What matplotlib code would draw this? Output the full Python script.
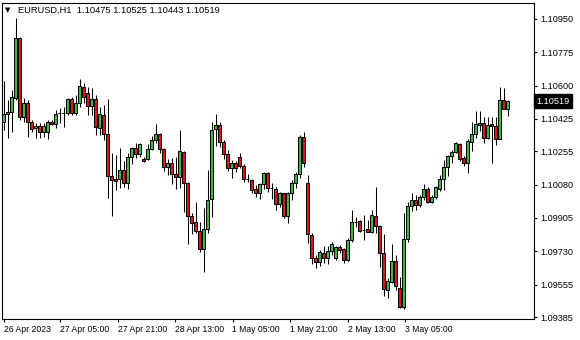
import matplotlib
matplotlib.use("Agg")
import matplotlib.pyplot as plt
import matplotlib.transforms as mtransforms

plt.rcParams['font.family'] = ['Liberation Sans', 'DejaVu Sans']

# EURUSD H1 candles (open, high, low, close)
opens = [1.10410, 1.10452, 1.10462, 1.10536, 1.10851, 1.10436, 1.10509, 1.10410, 1.10378, 1.10389,
         1.10357, 1.10357, 1.10410, 1.10399, 1.10457, 1.10457, 1.10457, 1.10530, 1.10457, 1.10509,
         1.10593, 1.10562, 1.10494, 1.10530, 1.10378, 1.10446, 1.10347, 1.10126, 1.10110, 1.10110,
         1.10158, 1.10089, 1.10226, 1.10273, 1.10242, 1.10215, 1.10215, 1.10268, 1.10315, 1.10347,
         1.10268, 1.10173, 1.10194, 1.10137, 1.10121, 1.10252, 1.10089, 1.09916, 1.09885, 1.09837,
         1.09743, 1.09848, 1.10005, 1.10373, 1.10394, 1.10305, 1.10242, 1.10168, 1.10194, 1.10226,
         1.10179, 1.10110, 1.10105, 1.10058, 1.10037, 1.10084, 1.10142, 1.10063, 1.10058, 1.09979,
         1.10037, 1.09916, 1.10037, 1.10089, 1.10137, 1.10331, 1.10089, 1.09816, 1.09696, 1.09675,
         1.09722, 1.09696, 1.09732, 1.09696, 1.09753, 1.09743, 1.09685, 1.09790, 1.09885, 1.09890,
         1.09843, 1.09848, 1.09832, 1.09916, 1.09864, 1.09722, 1.09528, 1.09570, 1.09680, 1.09538,
         1.09438, 1.09795, 1.09969, 1.10000, 1.09974, 1.10016, 1.10058, 1.09990, 1.10016, 1.10058,
         1.10110, 1.10173, 1.10231, 1.10252, 1.10294, 1.10221, 1.10194, 1.10305, 1.10347, 1.10394,
         1.10404, 1.10326, 1.10399, 1.10389, 1.10320, 1.10525, 1.10475]
highs = [1.10625, 1.10525, 1.10578, 1.10956, 1.10856, 1.10536, 1.10525, 1.10420, 1.10404, 1.10404,
         1.10404, 1.10420, 1.10420, 1.10473, 1.10483, 1.10488, 1.10536, 1.10541, 1.10551, 1.10635,
         1.10614, 1.10593, 1.10588, 1.10551, 1.10488, 1.10499, 1.10530, 1.10247, 1.10236, 1.10273,
         1.10205, 1.10247, 1.10278, 1.10299, 1.10299, 1.10226, 1.10294, 1.10336, 1.10399, 1.10352,
         1.10273, 1.10215, 1.10221, 1.10226, 1.10368, 1.10257, 1.10095, 1.09932, 1.09990, 1.09885,
         1.09958, 1.10158, 1.10410, 1.10452, 1.10410, 1.10315, 1.10263, 1.10210, 1.10205, 1.10247,
         1.10189, 1.10137, 1.10110, 1.10079, 1.10089, 1.10147, 1.10147, 1.10089, 1.10068, 1.10042,
         1.10037, 1.10042, 1.10105, 1.10147, 1.10341, 1.10357, 1.10131, 1.09827, 1.09711, 1.09738,
         1.09759, 1.09759, 1.09780, 1.09759, 1.09764, 1.09748, 1.09801, 1.09948, 1.09911, 1.09895,
         1.09921, 1.09895, 1.09948, 1.10068, 1.09869, 1.09822, 1.09591, 1.09769, 1.09711, 1.09596,
         1.09932, 1.09990, 1.10037, 1.10026, 1.10026, 1.10084, 1.10068, 1.10026, 1.10074, 1.10131,
         1.10210, 1.10236, 1.10263, 1.10305, 1.10299, 1.10231, 1.10320, 1.10410, 1.10467, 1.10467,
         1.10436, 1.10436, 1.10436, 1.10436, 1.10593, 1.10588, 1.10525]
lows = [1.10368, 1.10326, 1.10357, 1.10525, 1.10420, 1.10410, 1.10331, 1.10357, 1.10326, 1.10326,
        1.10331, 1.10320, 1.10394, 1.10378, 1.10404, 1.10383, 1.10446, 1.10446, 1.10446, 1.10488,
        1.10509, 1.10446, 1.10446, 1.10341, 1.10341, 1.10315, 1.10011, 1.09916, 1.10053, 1.10063,
        1.10068, 1.10058, 1.10189, 1.10221, 1.10226, 1.10200, 1.10210, 1.10263, 1.10299, 1.10247,
        1.10152, 1.10131, 1.10084, 1.10058, 1.10063, 1.09937, 1.09769, 1.09822, 1.09827, 1.09727,
        1.09622, 1.09827, 1.09911, 1.10284, 1.10278, 1.10215, 1.10152, 1.10116, 1.10147, 1.10168,
        1.10095, 1.10095, 1.10037, 1.10016, 1.10005, 1.10058, 1.10042, 1.10005, 1.09948, 1.09963,
        1.09906, 1.09879, 1.10000, 1.10063, 1.10116, 1.10173, 1.09774, 1.09664, 1.09643, 1.09654,
        1.09669, 1.09664, 1.09711, 1.09685, 1.09722, 1.09669, 1.09680, 1.09780, 1.09858, 1.09832,
        1.09790, 1.09829, 1.09827, 1.09827, 1.09648, 1.09496, 1.09486, 1.09564, 1.09528, 1.09433,
        1.09428, 1.09780, 1.09942, 1.09948, 1.09963, 1.10000, 1.09984, 1.09984, 1.10005, 1.10047,
        1.10053, 1.10126, 1.10194, 1.10247, 1.10205, 1.10179, 1.10142, 1.10257, 1.10326, 1.10362,
        1.10299, 1.10320, 1.10194, 1.10289, 1.10320, 1.10478, 1.10443]
closes = [1.10452, 1.10462, 1.10541, 1.10851, 1.10436, 1.10509, 1.10410, 1.10373, 1.10389, 1.10357,
          1.10389, 1.10410, 1.10399, 1.10452, 1.10457, 1.10457, 1.10530, 1.10457, 1.10509, 1.10599,
          1.10541, 1.10494, 1.10530, 1.10383, 1.10452, 1.10347, 1.10126, 1.10105, 1.10100, 1.10158,
          1.10089, 1.10226, 1.10273, 1.10242, 1.10294, 1.10205, 1.10268, 1.10315, 1.10347, 1.10268,
          1.10173, 1.10194, 1.10137, 1.10121, 1.10257, 1.10089, 1.09916, 1.09879, 1.09837, 1.09743,
          1.09848, 1.10000, 1.10368, 1.10394, 1.10305, 1.10242, 1.10168, 1.10194, 1.10168, 1.10179,
          1.10110, 1.10110, 1.10053, 1.10037, 1.10084, 1.10142, 1.10063, 1.10063, 1.09979, 1.10037,
          1.09916, 1.10037, 1.10089, 1.10137, 1.10331, 1.10194, 1.09822, 1.09696, 1.09675, 1.09727,
          1.09696, 1.09732, 1.09769, 1.09753, 1.09738, 1.09685, 1.09790, 1.09885, 1.09885, 1.09837,
          1.09843, 1.09832, 1.09921, 1.09864, 1.09722, 1.09533, 1.09575, 1.09680, 1.09549, 1.09438,
          1.09795, 1.09969, 1.10000, 1.09974, 1.10016, 1.10058, 1.09990, 1.10016, 1.10068, 1.10110,
          1.10173, 1.10231, 1.10252, 1.10299, 1.10215, 1.10194, 1.10310, 1.10347, 1.10399, 1.10404,
          1.10326, 1.10394, 1.10389, 1.10320, 1.10525, 1.10478, 1.10519]

time_ticks = [0, 14.2, 28.5, 42.9, 57.25, 71.7, 86.1, 100.4]
time_labels = ["26 Apr 2023", "27 Apr 05:00", "27 Apr 21:00", "28 Apr 13:00",
               "1 May 05:00", "1 May 21:00", "2 May 13:00", "3 May 05:00"]
price_ticks = [1.10950, 1.10775, 1.10600, 1.10425, 1.10255,
               1.10080, 1.09905, 1.09730, 1.09555, 1.09385]
symbol = "EURUSD,H1"
last_price = closes[-1]

bull = "#46b04a"
bear = "#d41a1a"

fig = plt.figure(figsize=(5.8, 3.4), dpi=100)
fig.patch.set_facecolor("white")
ax = fig.add_axes([2 / 580, 21 / 340, 532 / 580, 316 / 340])

xs = list(range(len(opens)))
ax.vlines(xs, lows, highs, color="black", linewidth=0.75)
for i in xs:
    o, c = opens[i], closes[i]
    if c > o:
        col = bull
    elif c < o:
        col = bear
    else:
        col = "black"
    ax.bar(i, c - o, bottom=o, width=0.75, color=col,
           edgecolor="black", linewidth=0.72, zorder=3)

# 4 px per bar, candle centres on pixel centres
ax.set_xlim(-0.375, 132.625)
ax.set_ylim(1.093745, 1.11034)

for s in ax.spines.values():
    s.set_color("black")
    s.set_linewidth(0.8)

ax.yaxis.tick_right()
ax.set_yticks(price_ticks)
ax.set_yticklabels(["%.5f" % p for p in price_ticks])
ax.tick_params(axis="y", direction="out", length=2.5, width=0.8, pad=2,
               labelsize=6.6, colors="black")

ax.set_xticks(time_ticks)
ax.set_xticklabels(time_labels)
ax.tick_params(axis="x", direction="out", length=2.5, width=0.8, pad=2,
               labelsize=6.2, colors="black")
for lab in ax.get_xticklabels():
    lab.set_horizontalalignment("left")

# current price marker on the price scale
trans = mtransforms.blended_transform_factory(ax.transAxes, ax.transData)
ax.text(1.004, last_price, "%.5f" % last_price, transform=trans,
        ha="left", va="center", fontsize=6.6, color="white",
        bbox=dict(boxstyle="square,pad=0.25", facecolor="black", edgecolor="black"))

# header line
header = "%s  %.5f %.5f %.5f %.5f" % (symbol, opens[-1], highs[-1], lows[-1], closes[-1])
fig.text(5 / 580, 1 - 10.5 / 340, "\u25bc", fontsize=5, va="center", ha="left",
         family="DejaVu Sans")
fig.text(18 / 580, 1 - 10 / 340, header, fontsize=6.7, va="center", ha="left")

fig.savefig("out.png", dpi=100, facecolor="white")
